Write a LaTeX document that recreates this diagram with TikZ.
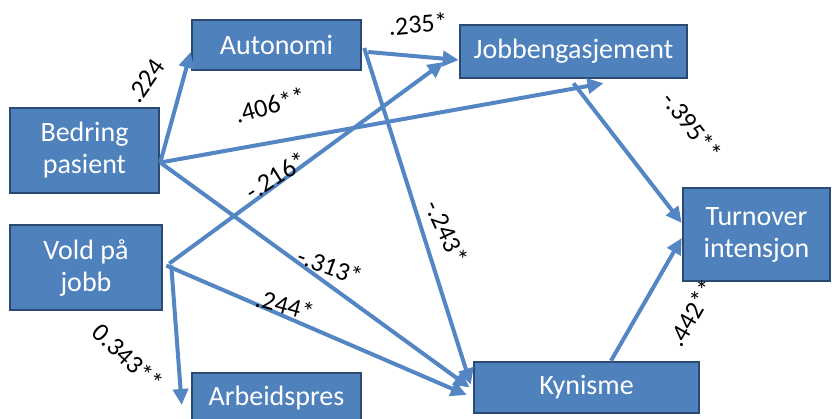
\documentclass[tikz,border=0pt]{standalone}
\usepackage{fontspec}
\setmainfont{Carlito}
\usetikzlibrary{arrows.meta}
\definecolor{boxblue}{HTML}{4F81BD}
\definecolor{boxedge}{HTML}{2A4A72}
\definecolor{linkblue}{HTML}{5386C3}

\begin{document}
\begin{tikzpicture}[x=1pt,y=-1pt,
  var/.style={draw=boxedge,line width=2.5pt,fill=boxblue,text=white,align=center,
    inner sep=0pt,font=\fontsize{28}{32}\selectfont},
  link/.style={draw=linkblue,line width=4pt,-{Triangle[length=16pt,width=15pt]}},
  coef/.style={inner sep=0pt,font=\fontsize{26}{30}\selectfont}]
\useasboundingbox (0,0) rectangle (832,418);
\clip (0,0) rectangle (832,418);
\node[var,minimum width=149pt,minimum height=85pt] (bed) at (84.5,150.5) {Bedring\\pasient};
\node[var,minimum width=152pt,minimum height=85pt] (vold) at (86,267.5) {Vold på\\jobb};
\node[var,minimum width=169pt,minimum height=50pt] (auto) at (276.5,45) {Autonomi};
\node[var,minimum width=169pt,minimum height=50pt] (arb) at (276.5,398) {Arbeidspres};
\node[var,minimum width=227pt,minimum height=53pt] (job) at (573.5,51.5) {Jobbengasjement};
\node[var,minimum width=225pt,minimum height=51pt] (kyn) at (586.5,387.5) {Kynisme};
\node[var,minimum width=147pt,minimum height=93pt] (turn) at (756.5,234.5) {Turnover\\intensjon};
\draw[link] ([yshift=-12pt]bed.east) -- ([yshift=-7pt]auto.west);
\draw[link] ([yshift=-12pt]bed.east) -- ([xshift=30pt,yshift=-4pt]job.south);
\draw[link] ([yshift=-12pt]bed.east) -- ([xshift=-3pt]kyn.west);
\draw[link] ([xshift=6pt,yshift=-7pt]auto.east) -- ([yshift=-8.5pt]job.west);
\draw[link] ([xshift=2pt,yshift=-3pt]auto.east) -- ([xshift=-2pt,yshift=3pt]kyn.west);
\draw[link] ([xshift=6pt,yshift=4pt]vold.east) -- ([xshift=-15pt,yshift=-10.5pt]job.west);
\draw[link] ([xshift=3pt,yshift=2pt]vold.east) -- ([xshift=-6pt,yshift=-7.5pt]kyn.west);
\draw[link] ([xshift=8pt,yshift=2pt]vold.east) -- ([xshift=-9pt,yshift=-7pt]arb.west);
\draw[link] ([yshift=-4pt]job.south) -- ([yshift=11.5pt]turn.west);
\draw[link] ([xshift=24.5pt]kyn.north) -- ([yshift=-3.5pt]turn.west);
\node[coef,rotate=55] (c224) at (146,81) {.224};
\node[coef,rotate=15] (c406) at (270,105) {.406**};
\node[coef,rotate=32] (c216) at (276,176) {-.216*};
\node[coef,rotate=5] (c235) at (418,24) {.235*};
\node[coef,rotate=-52] (c395) at (692,126) {-.395**};
\node[coef,rotate=-65] (c243) at (447,232) {-.243*};
\node[coef,rotate=-20] (c313) at (330,266) {-.313*};
\node[coef,rotate=-15] (c244) at (285,305) {.244*};
\node[coef,rotate=-43] (c343) at (128,357) {0.343**};
\node[coef,rotate=60] (c442) at (692,313) {.442**};
\end{tikzpicture}
\end{document}
